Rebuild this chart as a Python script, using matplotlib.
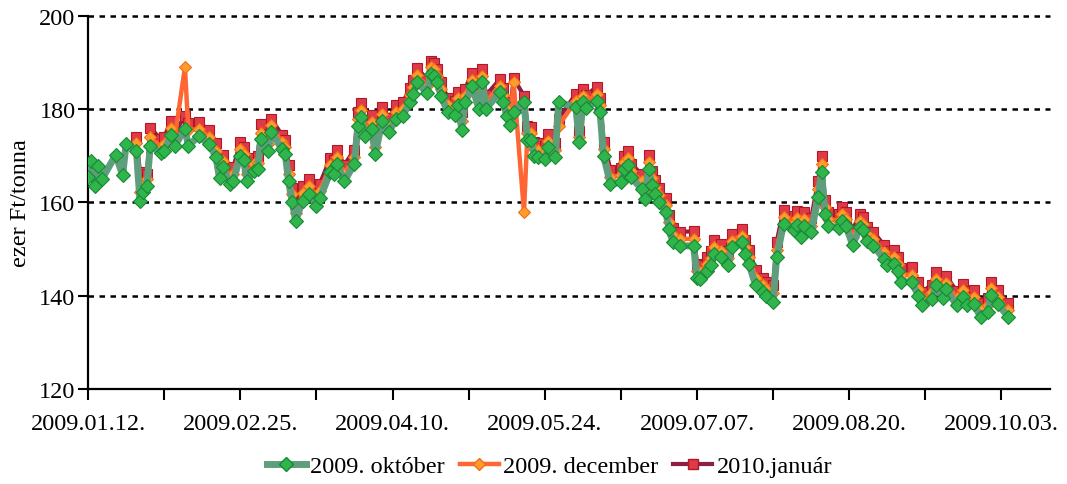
import numpy as np
import pandas as pd
import matplotlib
matplotlib.use("Agg")
import matplotlib.pyplot as plt
import matplotlib.dates as mdates
from matplotlib.lines import Line2D

# ---------------- data ----------------
start_date = "2009-01-12"
day_offsets = [0, 1, 2, 3, 4, 8, 10, 11, 14, 15, 16, 17, 18, 21, 22, 24, 25, 28, 29, 32,
               35, 37, 38, 39, 41, 42, 44, 45, 46, 48, 49, 50, 52, 53, 56, 57, 58, 59, 60, 62,
               64, 66, 67, 70, 71, 72, 74, 77, 78, 79, 80, 82, 83, 85, 87, 89, 91, 93, 94, 95,
               98, 99, 100, 101, 102, 104, 106, 107, 108, 109, 111, 113, 114, 115, 119, 120, 121, 122, 123, 126,
               127, 128, 129, 130, 132, 133, 135, 136, 141, 142, 143, 144, 147, 148, 149, 151, 154, 155, 156, 157,
               160, 161, 162, 163, 164, 165, 167, 168, 169, 171, 175, 176, 177, 179, 180, 181, 183, 185, 186, 189,
               190, 191, 193, 195, 196, 198, 199, 201, 204, 205, 206, 207, 209, 211, 212, 213, 214, 217, 218, 219,
               221, 223, 224, 225, 227, 230, 231, 233, 234, 235, 238, 240, 241, 244, 245, 247, 248, 251, 253, 254,
               256, 258, 260, 261, 263, 266]

okt_2009 = [165.4, 168.8, 163.6, 167.8, 165.0, 170.2, 165.9, 172.5, 171.1, 160.4, 162.2, 163.6, 172.2, 170.6, 171.1, 174.5, 172.1, 175.8, 172.2, 174.2,
            172.5, 169.7, 165.2, 167.5, 164.0, 164.7, 170.0, 169.0, 164.7, 166.8, 167.2, 173.6, 171.1, 175.1, 171.5, 170.4, 164.5, 160.2, 156.1, 160.4,
            161.8, 159.3, 160.9, 166.5, 166.1, 168.3, 164.5, 168.3, 176.5, 178.3, 174.3, 175.8, 170.4, 177.5, 175.2, 177.9, 178.6, 181.6, 183.3, 185.8,
            183.5, 187.6, 187.2, 185.8, 182.9, 179.3, 178.8, 180.9, 175.6, 181.5, 184.9, 180.1, 185.8, 180.1, 183.6, 181.5, 178.6, 176.6, 179.5, 181.5,
            173.5, 173.3, 170.0, 169.7, 169.3, 171.8, 169.7, 181.5, 180.4, 172.9, 181.5, 180.2, 181.8, 179.3, 170.0, 164.0, 164.3, 167.2, 168.0, 165.4,
            162.9, 160.8, 167.2, 163.8, 161.8, 160.0, 157.9, 154.3, 151.5, 150.7, 150.7, 143.9, 143.6, 145.4, 146.5, 149.0, 148.2, 146.5, 150.4, 151.5,
            149.0, 146.8, 142.2, 140.7, 140.0, 138.6, 148.2, 155.4, 154.0, 155.2, 152.5, 155.0, 153.6, 161.1, 166.5, 157.5, 155.0, 154.5, 156.1, 155.0,
            150.9, 154.7, 154.0, 151.8, 150.7, 147.9, 146.5, 146.8, 145.2, 143.0, 143.0, 140.0, 137.9, 139.3, 142.2, 139.5, 141.4, 138.0, 139.7, 138.0,
            138.2, 135.4, 136.5, 140.2, 138.2, 135.4]

dec_2009 = [np.nan, np.nan, np.nan, np.nan, np.nan, np.nan, np.nan, np.nan, 172.8, 162.2, 163.6, 165.0, 174.0, 172.0, 172.5, 176.0, 173.5, 189.0, 175.5, 175.8,
            174.0, 171.0, 167.5, 168.8, 165.2, 166.0, 171.5, 170.5, 166.0, 168.2, 168.5, 175.0, 172.6, 176.6, 172.9, 171.8, 166.0, 161.8, 157.8, 162.0,
            163.5, 160.8, 162.4, 168.0, 167.6, 169.8, 166.0, 169.8, 178.0, 179.8, 175.8, 177.3, 172.0, 179.0, 176.6, 179.3, 180.0, 183.0, 184.7, 187.3,
            185.0, 189.0, 188.6, 187.2, 184.3, 180.8, 180.2, 182.3, 177.5, 182.9, 186.3, 181.6, 187.2, 181.6, 185.0, 183.0, 180.1, 178.0, 185.8, 157.9,
            175.0, 174.8, 171.5, 171.2, 170.8, 173.2, 171.2, 176.5, 181.8, 174.0, 182.9, 181.6, 183.2, 180.8, 171.5, 165.5, 165.8, 168.6, 169.5, 166.8,
            164.5, 162.3, 168.7, 165.2, 163.3, 161.5, 159.4, 155.8, 153.0, 152.2, 152.2, 145.4, 145.0, 146.8, 148.0, 150.4, 149.6, 148.0, 151.8, 152.9,
            150.5, 148.3, 143.8, 142.2, 141.5, 140.6, 149.8, 156.8, 155.5, 156.6, 154.0, 156.4, 155.0, 162.8, 168.3, 159.0, 156.5, 156.0, 157.5, 156.5,
            152.5, 156.1, 155.4, 153.3, 152.2, 149.4, 148.0, 148.3, 146.7, 144.5, 144.5, 141.5, 139.4, 140.8, 143.6, 141.0, 142.8, 139.5, 141.2, 139.5,
            139.7, 136.9, 138.0, 141.6, 139.7, 136.9]

jan_2010 = [np.nan, np.nan, np.nan, np.nan, np.nan, np.nan, np.nan, np.nan, 174.0, 166.5, 165.0, 166.0, 176.0, 173.6, 174.0, 177.5, 175.0, 178.5, 177.0, 177.2,
            175.5, 172.8, 169.8, 170.2, 166.5, 167.5, 173.0, 172.0, 167.5, 169.5, 170.0, 176.8, 174.2, 178.0, 174.5, 173.3, 168.0, 163.0, 159.5, 163.5,
            165.0, 162.3, 164.0, 169.5, 169.2, 171.2, 168.0, 171.3, 179.5, 181.3, 177.3, 178.8, 174.0, 180.5, 178.2, 180.8, 181.5, 184.5, 186.2, 188.8,
            186.5, 190.3, 190.0, 188.7, 185.8, 182.3, 181.7, 183.8, 179.5, 184.4, 187.8, 183.2, 188.6, 183.0, 186.4, 184.5, 181.6, 179.6, 186.6, 182.9,
            176.5, 176.2, 173.0, 172.7, 172.2, 174.7, 172.8, 178.0, 183.3, 175.4, 184.3, 183.0, 184.8, 182.3, 173.0, 167.0, 167.3, 170.0, 171.0, 168.3,
            166.0, 163.8, 170.2, 166.8, 164.8, 163.0, 160.9, 157.3, 154.5, 153.7, 153.8, 146.9, 146.5, 148.3, 149.5, 151.9, 151.1, 149.5, 153.3, 154.4,
            152.0, 149.8, 145.5, 143.7, 143.0, 142.3, 151.5, 158.4, 157.0, 158.1, 155.5, 157.9, 156.6, 164.5, 170.0, 160.5, 158.0, 157.5, 159.0, 158.0,
            154.0, 157.6, 156.9, 154.8, 153.7, 150.9, 149.5, 149.8, 148.2, 146.0, 146.2, 143.0, 140.9, 142.3, 145.1, 142.5, 144.3, 141.0, 142.6, 141.0,
            141.2, 138.4, 139.5, 143.0, 141.2, 138.4]

series_names = ["2009. október", "2009. december", "2010.január"]
y_label = "ezer Ft/tonna"
y_ticks = [120, 140, 160, 180, 200]

# ---------------- plotting ----------------
plt.rcParams['font.family'] = ['Liberation Serif', 'DejaVu Serif']

t0 = pd.Timestamp(start_date)
dates = t0 + pd.to_timedelta(day_offsets, unit="D")

fig = plt.figure(figsize=(10.67, 4.85), dpi=100)
ax = fig.add_axes([0.0825, 0.196, 0.9015, 0.769])

# január (bottom)
ax.plot(dates, jan_2010, color="#8c1f45", lw=3.0, zorder=3,
        marker="s", ms=7.5, mfc="#e03a48", mec="#b01828", mew=0.8)
# december
ax.plot(dates, dec_2009, color="#ff6633", lw=3.2, zorder=4,
        marker="D", ms=6.2, mfc="#ff9a2e", mec="#f07010", mew=0.8)
# október (top)
ax.plot(dates, okt_2009, color="#5f9e7c", lw=5.0, zorder=5,
        marker="D", ms=6.8, mfc="#2fb54c", mec="#168a32", mew=0.8)

# axes ranges
ax.set_ylim(120, 200)
ax.set_yticks(y_ticks)
ax.set_xlim(t0, t0 + pd.Timedelta(days=278))

major = [t0 + pd.Timedelta(days=44 * k) for k in range(7)]
minor = [t0 + pd.Timedelta(days=22 * k) for k in range(13)]
ax.set_xticks(major)
ax.set_xticks(minor, minor=True)
ax.xaxis.set_major_formatter(mdates.DateFormatter("%Y.%m.%d."))

ax.tick_params(axis="x", which="both", direction="out", length=8, width=1.5,
               labelsize=17.5, pad=9, colors="black")
ax.tick_params(axis="y", direction="out", length=7, width=1.5, labelsize=17.5, pad=2)

for y in y_ticks[1:]:
    ax.axhline(y, color="black", lw=1.8, ls=(0, (2.2, 2.2)), zorder=1, clip_on=False)

for s in ["top", "right"]:
    ax.spines[s].set_visible(False)
for s in ["left", "bottom"]:
    ax.spines[s].set_linewidth(1.6)

ax.set_ylabel(y_label, fontsize=17.5, labelpad=6)

handles = [
    Line2D([], [], color="#5f9e7c", lw=5, marker="D", ms=6.8, mfc="#2fb54c", mec="#168a32"),
    Line2D([], [], color="#ff6633", lw=3.2, marker="D", ms=6.2, mfc="#ff9a2e", mec="#f07010"),
    Line2D([], [], color="#8c1f45", lw=3, marker="s", ms=7.5, mfc="#e03a48", mec="#b01828"),
]
fig.legend(handles, series_names, loc="center", bbox_to_anchor=(0.515, 0.037), ncol=3,
           frameon=False, fontsize=17.5, handlelength=1.6, handletextpad=0.2,
           columnspacing=0.6, markerscale=1.0)

fig.savefig("out.png", dpi=100)
